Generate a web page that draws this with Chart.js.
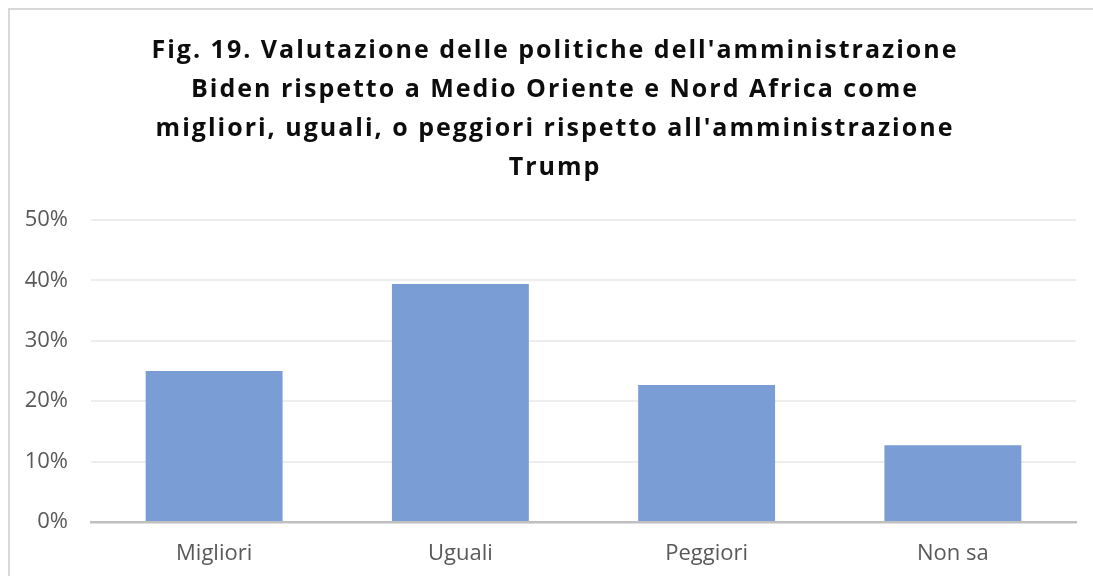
<!DOCTYPE html>
<html>
<head>
<meta charset="utf-8">
<script src="https://cdn.jsdelivr.net/npm/chart.js@4"></script>
<style>
  html, body { margin: 0; padding: 0; background: #fff; overflow: hidden; }
  #frame {
    position: absolute; left: 8px; top: 8px; width: 1100px; height: 580px;
    border-top: 2px solid #d9d9d9; border-left: 2px solid #d9d9d9;
  }
  #wrap { position: absolute; left: 10px; top: 10px; width: 1090px; height: 566px; }
</style>
</head>
<body>
<div id="frame"></div>
<div id="wrap"><canvas id="chart"></canvas></div>
<script>
const titleLines = [
  "Fig. 19. Valutazione delle politiche dell'amministrazione",
  "Biden rispetto a Medio Oriente e Nord Africa come",
  "migliori, uguali, o peggiori rispetto all'amministrazione",
  "Trump",
];

const categories = ["Migliori", "Uguali", "Peggiori", "Non sa"];
const values = [0.25, 0.394, 0.227, 0.127];

const yTicks = [0, 0.1, 0.2, 0.3, 0.4, 0.5];

const fontFamily = "'Open Sans', 'Liberation Sans', sans-serif";

// the original title is set with wide letter spacing and sits a bit right of the canvas middle
const spacedTitle = {
  id: "spacedTitle",
  afterInit(chart) {
    const block = chart.titleBlock;
    if (!block) return;
    const draw = block.draw.bind(block);
    block.draw = (area) => {
      const ctx = chart.ctx;
      ctx.save();
      ctx.letterSpacing = "2px";
      ctx.translate(12, 0);
      draw(area);
      ctx.restore();
    };
  },
};

new Chart(document.getElementById("chart").getContext("2d"), {
  type: "bar",
  data: {
    labels: categories,
    datasets: [
      {
        data: values,
        backgroundColor: "#7b9dd5",
        borderWidth: 0,
        barPercentage: 0.556,
        categoryPercentage: 1,
      },
    ],
  },
  plugins: [spacedTitle],
  options: {
    responsive: true,
    maintainAspectRatio: false,
    animation: false,
    layout: { padding: { left: 0, right: 24, top: 21, bottom: 0 } },
    plugins: {
      legend: { display: false },
      tooltip: { enabled: false },
      title: {
        display: true,
        text: titleLines,
        color: "#0d0d0d",
        font: { family: fontFamily, size: 25, weight: "bold", lineHeight: "39px" },
        padding: { top: 0, bottom: 33 },
      },
    },
    scales: {
      x: {
        afterFit: (axis) => {
          axis.height = 54;
        },
        grid: { display: false, drawTicks: false },
        border: { color: "#bfbfbf", width: 2.5 },
        ticks: {
          color: "#595959",
          font: { family: fontFamily, size: 22 },
          padding: 19,
        },
      },
      y: {
        min: 0,
        max: 0.5,
        afterBuildTicks: (axis) => {
          axis.ticks = yTicks.map((v) => ({ value: v }));
        },
        afterFit: (axis) => {
          axis.width = 81;
        },
        grid: { color: "#ededed", lineWidth: 2, drawTicks: false },
        border: { display: false },
        ticks: {
          color: "#595959",
          font: { family: fontFamily, size: 22 },
          padding: 23,
          callback: (v) => Math.round(v * 100) + "%",
        },
      },
    },
  },
});
</script>
</body>
</html>
